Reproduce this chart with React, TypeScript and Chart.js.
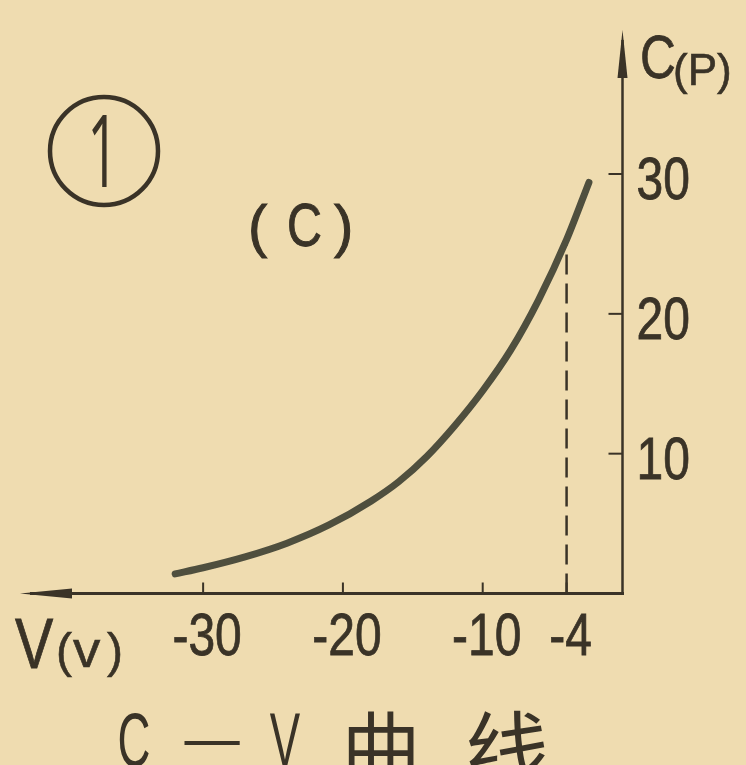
import React, { useEffect, useRef } from "react";
import { Chart, registerables } from "chart.js";

Chart.register(...registerables);

// ---- data ----
const voltage = [-32, -30, -27, -24, -21, -18, -16, -14, -12, -10, -8, -6, -4, -2.4];
const capacitance = [1.4, 1.84, 2.62, 3.6, 4.9, 6.6, 8.0, 9.8, 12.0, 14.5, 17.4, 21.0, 25.3, 29.4];
const markerVoltage = [-4, -4];
const markerCap = [0, 25.3];
const xTickValues = [-30, -20, -10, -4];
const xTickLabels = ["-30", "-20", "-10", "-4"];
const yTickValues = [10, 20, 30];
const yTickLabels = ["10", "20", "30"];
const xRange = [-43.1, 0];
const yRange = [0, 40.3];

const BG = "#efdcb0";
const INK = "#3a3327";
const CURVE = "#4f4f3e";
const LATIN = "'Liberation Sans', Arial, sans-serif";
const CJK = "'Noto Sans CJK SC', sans-serif";

function txt(
  ctx: CanvasRenderingContext2D,
  s: string,
  x: number,
  y: number,
  size: number,
  sx: number,
  align: CanvasTextAlign = "left",
  family: string = LATIN,
  stroke = 0
) {
  ctx.save();
  ctx.font = `${size}px ${family}`;
  ctx.textAlign = align;
  ctx.textBaseline = "alphabetic";
  ctx.fillStyle = INK;
  ctx.strokeStyle = INK;
  ctx.translate(x, y);
  ctx.scale(sx, 1);
  ctx.fillText(s, 0, 0);
  if (stroke > 0) {
    ctx.lineWidth = stroke;
    ctx.strokeText(s, 0, 0);
  }
  ctx.restore();
}

const bgPlugin = {
  id: "paper",
  beforeDraw(chart: any) {
    const { ctx, width, height } = chart;
    ctx.save();
    ctx.fillStyle = BG;
    ctx.fillRect(0, 0, width, height);
    ctx.restore();
  },
};

const axesPlugin = {
  id: "handAxes",
  beforeDatasetsDraw(chart: any) {
    const { ctx, chartArea } = chart;
    const xs = chart.scales.x;
    const ys = chart.scales.y;
    const x0 = xs.getPixelForValue(0);
    const y0 = ys.getPixelForValue(0);
    ctx.save();
    ctx.strokeStyle = INK;
    ctx.fillStyle = INK;
    ctx.lineCap = "butt";
    // x axis
    ctx.lineWidth = 3;
    ctx.beginPath();
    ctx.moveTo(chartArea.left + 10, y0);
    ctx.lineTo(x0 + 1.5, y0);
    ctx.stroke();
    ctx.beginPath();
    ctx.moveTo(chartArea.left, y0);
    ctx.lineTo(chartArea.left + 52, y0 - 5);
    ctx.lineTo(chartArea.left + 52, y0 + 5);
    ctx.closePath();
    ctx.fill();
    // y axis
    ctx.lineWidth = 2.5;
    ctx.beginPath();
    ctx.moveTo(x0, y0 + 1.5);
    ctx.lineTo(x0, chartArea.top + 10);
    ctx.stroke();
    ctx.beginPath();
    ctx.moveTo(x0, chartArea.top);
    ctx.lineTo(x0 - 5, chartArea.top + 48);
    ctx.lineTo(x0 + 5, chartArea.top + 48);
    ctx.closePath();
    ctx.fill();
    // ticks
    ctx.lineWidth = 2;
    xTickValues.forEach((v) => {
      const px = xs.getPixelForValue(v);
      ctx.beginPath();
      ctx.moveTo(px, y0);
      ctx.lineTo(px, y0 - 11);
      ctx.stroke();
    });
    yTickValues.forEach((v) => {
      const py = ys.getPixelForValue(v);
      ctx.beginPath();
      ctx.moveTo(x0, py);
      ctx.lineTo(x0 - 14, py);
      ctx.stroke();
    });
    ctx.restore();
  },
  afterDatasetsDraw(chart: any) {
    const { ctx } = chart;
    const xs = chart.scales.x;
    const ys = chart.scales.y;
    const x0 = xs.getPixelForValue(0);
    // tick labels
    xTickValues.forEach((v, i) => {
      txt(ctx, xTickLabels[i], xs.getPixelForValue(v) + 4, 655, 60, 0.8, "center", LATIN, 0.8);
    });
    yTickValues.forEach((v, i) => {
      txt(ctx, yTickLabels[i], x0 + 14, ys.getPixelForValue(v) + 25, 60, 0.8, "left", LATIN, 0.8);
    });
    // axis titles
    txt(ctx, "C", 640, 78, 62, 0.8, "left", LATIN, 0.8);
    txt(ctx, "(P)", 673, 85, 44, 1.0, "left", LATIN, 0.6);
    txt(ctx, "V", 15, 668, 70, 0.82, "left", LATIN, 0.8);
    txt(ctx, "(", 56, 667, 48, 1.0, "left", LATIN, 0.6);
    txt(ctx, "v", 73, 667, 52, 1.05, "left", LATIN, 0.6);
    txt(ctx, ")", 107, 667, 48, 1.0, "left", LATIN, 0.6);
    // curve label
    txt(ctx, "(", 248, 246, 58, 1.0, "left", LATIN, 1);
    txt(ctx, "C", 287, 246, 62, 0.78, "left", LATIN, 1);
    txt(ctx, ")", 334, 246, 58, 1.0, "left", LATIN, 1);
    // circled number
    ctx.save();
    ctx.strokeStyle = INK;
    ctx.lineWidth = 4.5;
    ctx.beginPath();
    ctx.arc(104, 151, 54, 0, Math.PI * 2);
    ctx.stroke();
    ctx.restore();
    txt(ctx, "1", 103, 187, 100, 0.55, "center", "'Open Sans', sans-serif");
    // title
    txt(ctx, "C", 134, 766, 76, 0.6, "center");
    txt(ctx, "—", 212, 758, 60, 0.92, "center");
    txt(ctx, "V", 285, 766, 76, 0.6, "center");
    txt(ctx, "曲", 381, 778, 80, 1.0, "center", CJK);
    txt(ctx, "线", 507, 782, 84, 1.0, "center", CJK);
  },
};

export default function App() {
  const ref = useRef<HTMLCanvasElement | null>(null);
  useEffect(() => {
    if (!ref.current) return;
    const chart = new Chart(ref.current, {
      type: "line",
      data: {
        datasets: [
          {
            label: "C-V",
            data: voltage.map((v, i) => ({ x: v, y: capacitance[i] })),
            borderColor: CURVE,
            borderWidth: 7,
            borderCapStyle: "round",
            pointRadius: 0,
            cubicInterpolationMode: "monotone",
            fill: false,
            order: 1,
          },
          {
            label: "marker",
            data: markerVoltage.map((v, i) => ({ x: v, y: markerCap[i] })),
            borderColor: INK,
            borderWidth: 2.5,
            borderDash: [20, 9],
            pointRadius: 0,
            fill: false,
            order: 2,
          },
        ],
      },
      options: {
        animation: false,
        responsive: false,
        events: [],
        layout: { padding: { left: 20, top: 30, right: 123.5, bottom: 171.5 } },
        scales: {
          x: { type: "linear", min: xRange[0], max: xRange[1], display: false },
          y: { type: "linear", min: yRange[0], max: yRange[1], display: false },
        },
        plugins: { legend: { display: false }, tooltip: { enabled: false } },
      },
      plugins: [bgPlugin, axesPlugin],
    } as any);
    return () => chart.destroy();
  }, []);
  return (
    <div style={{ position: "fixed", left: 0, top: 0, width: 746, height: 765, background: BG }}>
      <canvas ref={ref} width={746} height={765} style={{ display: "block" }} />
    </div>
  );
}
